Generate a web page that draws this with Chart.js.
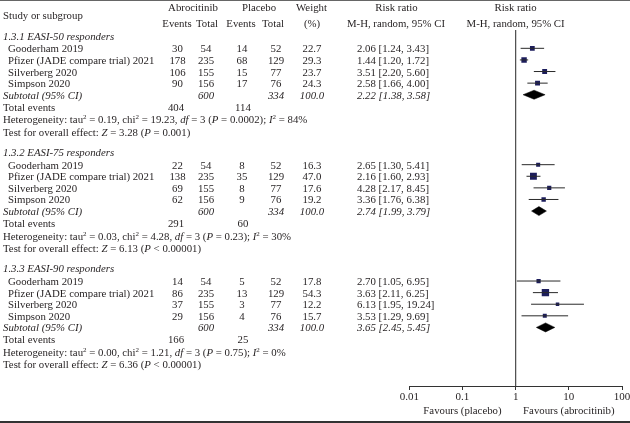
<!DOCTYPE html>
<html><head><meta charset="utf-8">
<script src="https://cdn.jsdelivr.net/npm/chart.js@4/dist/chart.umd.min.js"></script>
<style>
html,body{margin:0;padding:0;background:#fff;}
#wrap{position:relative;width:630px;height:423px;overflow:hidden;font-family:'Liberation Serif','Times New Roman',serif;font-size:10.8px;color:#231f20;}
#c{position:absolute;left:0;top:0;}
.t{position:absolute;white-space:nowrap;line-height:12px;height:12px;}
.c{text-align:center;width:140px;margin-left:-70px;}
.i{font-style:italic;}
sup{font-size:7px;line-height:0;vertical-align:4px;}
.hr{position:absolute;left:0;width:630px;}
</style></head>
<body><div id="wrap"><canvas id="c" width="630" height="423"></canvas>
<div class="hr" style="top:0;height:1px;background:#666"></div>
<div class="hr" style="top:421px;height:1.5px;background:#333"></div>
</div>
<script>
// ---------- data ----------
const subgroups = ['1.3.1 EASI-50 responders', '1.3.2 EASI-75 responders', '1.3.3 EASI-90 responders'];
const studies = ['Gooderham 2019', 'Pfizer (JADE compare trial) 2021', 'Silverberg 2020', 'Simpson 2020'];
const abroEvents = [[30, 178, 106, 90], [22, 138, 69, 62], [14, 86, 37, 29]];
const abroTotal = [54, 235, 155, 156];
const placEvents = [[14, 68, 15, 17], [8, 35, 8, 9], [5, 13, 3, 4]];
const placTotal = [52, 129, 77, 76];
const weights = [[22.7, 29.3, 23.7, 24.3], [16.3, 47.0, 17.6, 19.2], [17.8, 54.3, 12.2, 15.7]];
const rr = [[2.06, 1.44, 3.51, 2.58], [2.65, 2.16, 4.28, 3.36], [2.70, 3.63, 6.13, 3.53]];
const rrLow = [[1.24, 1.20, 2.20, 1.66], [1.30, 1.60, 2.17, 1.76], [1.05, 2.11, 1.95, 1.29]];
const rrHigh = [[3.43, 1.72, 5.60, 4.00], [5.41, 2.93, 8.45, 6.38], [6.95, 6.25, 19.24, 9.69]];
const subRR = [2.22, 2.74, 3.65];
const subLow = [1.38, 1.99, 2.45];
const subHigh = [3.58, 3.79, 5.45];
const subAbroTotal = [600, 600, 600];
const subPlacTotal = [334, 334, 334];
const subWeight = [100.0, 100.0, 100.0];
const totalAbroEvents = [404, 291, 166];
const totalPlacEvents = [114, 60, 25];
const hetTau2 = ['0.19', '0.03', '0.00'];
const hetChi2 = ['19.23', '4.28', '1.21'];
const hetDf = [3, 3, 3];
const hetP = ['0.0002', '0.23', '0.75'];
const hetI2 = [84, 30, 0];
const testZ = ['3.28', '6.13', '6.36'];
const testP = ['= 0.001', '< 0.00001', '< 0.00001'];
const xTicks = [0.01, 0.1, 1, 10, 100];
const xTickLabels = ['0.01', '0.1', '1', '10', '100'];

// ---------- layout (row units) ----------
const sectionStep = 10.03;
const offHeader = 0, offStudies = [1.08, 2.08, 3.08, 4.08], offSub = 5.08, offTotal = 6.12, offHet = 7.2, offTest = 8.26;
const yMin = -0.5, yMax = 30.19;
const diamondHalf = 0.39;
const navy = '#1c1d5c', ink = '#231f20';

// ---------- datasets ----------
const datasets = [];
// null line at 1
datasets.push({type:'line', data:[{x:1,y:yMin},{x:1,y:yMax}], borderColor:'#4a4a4a', borderWidth:1.2, pointRadius:0, fill:false});
const sqPts = [], sqR = [];
for (let s = 0; s < 3; s++) {
  const base = s * sectionStep;
  for (let i = 0; i < 4; i++) {
    const y = base + offStudies[i];
    datasets.push({type:'line', data:[{x:rrLow[s][i],y},{x:rrHigh[s][i],y}], borderColor:'#2a2a2a', borderWidth:1, pointRadius:0, fill:false});
    sqPts.push({x:rr[s][i], y});
    sqR.push(Math.sqrt(weights[s][i]) / Math.SQRT2);
  }
  const yd = base + offSub;
  datasets.push({type:'line', data:[{x:subLow[s],y:yd},{x:subRR[s],y:yd-diamondHalf},{x:subHigh[s],y:yd},{x:subRR[s],y:yd+diamondHalf},{x:subLow[s],y:yd}],
    borderColor:'#000', borderWidth:0.5, backgroundColor:'#000', pointRadius:0, fill:'shape', tension:0});
}
datasets.push({type:'scatter', data:sqPts, pointStyle:'rect', pointRadius:sqR, backgroundColor:navy, borderColor:navy, borderWidth:0});

// ---------- text overlay ----------
const wrap = document.getElementById('wrap');
const textItems = [];
function T(html, x, row, align, italic) { textItems.push({html, x, row, align, italic}); }

const textPlugin = {
  id: 'tableText',
  afterRender(chart) {
    if (chart.$textDone) return;
    chart.$textDone = true;
    const ys = chart.scales.y, xs = chart.scales.x;
    const xOne = xs.getPixelForValue(1);
    T('Study or subgroup', 3, -1.78, 'l');
    T('Abrocitinib', 193, -2.47, 'c');
    T('Events', 177, -1.12, 'c'); T('Total', 207, -1.12, 'c');
    T('Placebo', 259, -2.47, 'c');
    T('Events', 241, -1.12, 'c'); T('Total', 273, -1.12, 'c');
    T('Weight', 311.5, -2.47, 'c'); T('(%)', 312, -1.12, 'c');
    T('Risk ratio', 396.5, -2.47, 'c'); T('M-H, random, 95% CI', 396, -1.12, 'c');
    T('Risk ratio', xOne, -2.47, 'c'); T('M-H, random, 95% CI', xOne, -1.12, 'c');
    for (let s = 0; s < 3; s++) {
      const b = s * sectionStep;
      T(subgroups[s], 3, b + offHeader, 'l', true);
      for (let i = 0; i < 4; i++) {
        const r = b + offStudies[i];
        T(studies[i], 8, r, 'l');
        T(String(abroEvents[s][i]), 177.5, r, 'c');
        T(String(abroTotal[i]), 206, r, 'c');
        T(String(placEvents[s][i]), 242, r, 'c');
        T(String(placTotal[i]), 276, r, 'c');
        T(weights[s][i].toFixed(1), 312, r, 'c');
        T(rr[s][i].toFixed(2) + ' [' + rrLow[s][i].toFixed(2) + ', ' + rrHigh[s][i].toFixed(2) + ']', 357, r, 'l');
      }
      const rs = b + offSub;
      T('Subtotal (95% CI)', 3, rs, 'l', true);
      T(String(subAbroTotal[s]), 206, rs, 'c', true);
      T(String(subPlacTotal[s]), 276, rs, 'c', true);
      T(subWeight[s].toFixed(1), 312, rs, 'c', true);
      T(subRR[s].toFixed(2) + ' [' + subLow[s].toFixed(2) + ', ' + subHigh[s].toFixed(2) + ']', 357, rs, 'l', true);
      const rt = b + offTotal;
      T('Total events', 3, rt, 'l');
      T(String(totalAbroEvents[s]), 176, rt, 'c');
      T(String(totalPlacEvents[s]), 243, rt, 'c');
      T('Heterogeneity: tau<sup>2</sup> = ' + hetTau2[s] + ', chi<sup>2</sup> = ' + hetChi2[s] + ', <i>df</i> = ' + hetDf[s] +
        ' (<i>P</i> = ' + hetP[s] + '); <i>I</i><sup>2</sup> = ' + hetI2[s] + '%', 3, b + offHet, 'l');
      T('Test for overall effect: <i>Z</i> = ' + testZ[s] + ' (<i>P</i> ' + testP[s] + ')', 3, b + offTest, 'l');
    }
    for (const it of textItems) {
      const d = document.createElement('div');
      d.className = 't' + (it.align === 'c' ? ' c' : '') + (it.italic ? ' i' : '');
      d.innerHTML = it.html;
      d.style.left = it.x + 'px';
      d.style.top = (ys.getPixelForValue(it.row) - 6) + 'px';
      wrap.appendChild(d);
    }
    const favY = chart.chartArea.bottom + 18;
    [['Favours (placebo)', xs.getPixelForValue(0.1)], ['Favours (abrocitinib)', xs.getPixelForValue(10)]].forEach(([txt, x]) => {
      const d = document.createElement('div');
      d.className = 't c'; d.textContent = txt;
      d.style.left = x + 'px'; d.style.top = favY + 'px';
      wrap.appendChild(d);
    });
  }
};

new Chart(document.getElementById('c'), {
  type: 'line',
  data: { datasets },
  options: {
    responsive: false, animation: false, events: [],
    layout: { padding: { left: 409.3, right: 8, top: 30, bottom: 0 } },
    plugins: { legend: { display: false }, tooltip: { enabled: false } },
    scales: {
      x: {
        type: 'logarithmic', min: 0.01, max: 100, position: 'bottom',
        afterBuildTicks: (sc) => { sc.ticks = xTicks.map(v => ({ value: v })); },
        afterFit: (sc) => { sc.height = 37; sc.paddingLeft = 0; sc.paddingRight = 0; },
        ticks: {
          autoSkip: false, maxRotation: 0, padding: 1, color: ink,
          font: { family: "'Liberation Serif', serif", size: 11 },
          callback: (v) => { const k = xTicks.indexOf(v); return k >= 0 ? xTickLabels[k] : ''; }
        },
        grid: { drawOnChartArea: false, drawTicks: true, tickLength: 4, color: '#333', lineWidth: 1 },
        border: { display: true, color: '#333', width: 1 }
      },
      y: { type: 'linear', min: yMin, max: yMax, reverse: true, display: false }
    }
  },
  plugins: [textPlugin]
});
</script>
</body></html>
